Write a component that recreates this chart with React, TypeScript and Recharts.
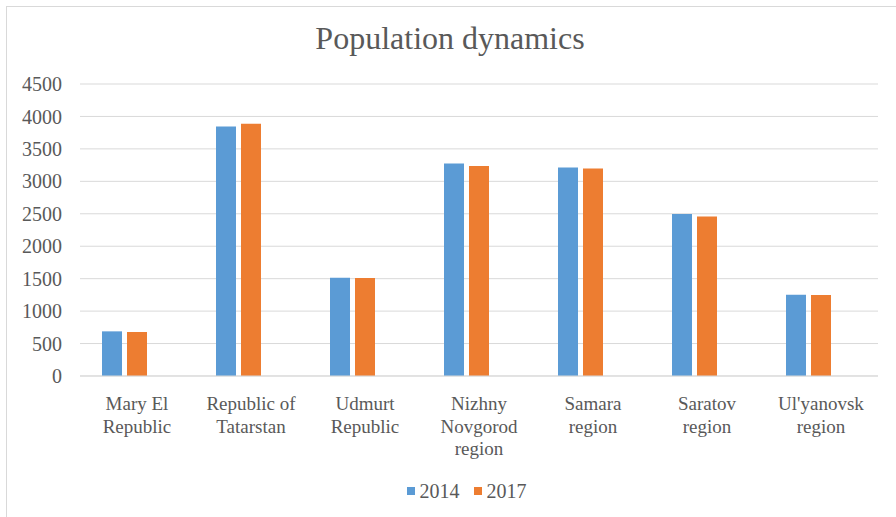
import React from 'react';
import {
  BarChart,
  Bar,
  XAxis,
  YAxis,
  CartesianGrid,
  Legend,
} from 'recharts';

const categories = [
  'Mary El\nRepublic',
  'Republic of\nTatarstan',
  'Udmurt\nRepublic',
  'Nizhny\nNovgorod\nregion',
  'Samara\nregion',
  'Saratov\nregion',
  "Ul'yanovsk\nregion",
];
const values2014 = [688, 3846, 1514, 3274, 3214, 2495, 1252];
const values2017 = [678, 3886, 1512, 3235, 3198, 2458, 1250];
const yTicks = [0, 500, 1000, 1500, 2000, 2500, 3000, 3500, 4000, 4500];

const data = categories.map((name, i) => ({
  name,
  y2014: values2014[i],
  y2017: values2017[i],
}));

const FONT = '"Liberation Serif", serif';
const TEXT = '#595959';
const GRID = '#d9d9d9';

function CategoryTick({ x, y, payload }: any) {
  const lines = String(payload.value).split('\n');
  return (
    <text
      x={x}
      y={y}
      textAnchor="middle"
      fill={TEXT}
      fontFamily={FONT}
      fontSize={19}
    >
      {lines.map((line, i) => (
        <tspan key={i} x={x} dy={i === 0 ? 28 : 22.5}>
          {line}
        </tspan>
      ))}
    </text>
  );
}

function LegendContent({ payload }: any) {
  return (
    <div
      style={{
        height: 24,
        display: 'flex',
        justifyContent: 'center',
        alignItems: 'center',
        gap: 14,
        fontFamily: FONT,
        fontSize: 20,
        color: TEXT,
      }}
    >
      {(payload || []).map((item: any) => (
        <span key={item.value} style={{ display: 'flex', alignItems: 'center' }}>
          <span
            style={{
              display: 'inline-block',
              width: 8,
              height: 8,
              background: item.color,
              marginRight: 5,
            }}
          />
          {item.value}
        </span>
      ))}
    </div>
  );
}

export default function App() {
  return (
    <div
      style={{
        position: 'absolute',
        left: 0,
        top: 0,
        width: 896,
        height: 517,
        background: '#fff',
      }}
    >
      <div
        style={{
          position: 'absolute',
          left: 6,
          top: 6,
          width: 900,
          height: 520,
          borderTop: `1px solid ${GRID}`,
          borderLeft: `1px solid ${GRID}`,
        }}
      />
      <div
        style={{
          position: 'absolute',
          left: 0,
          top: 22,
          width: 900,
          textAlign: 'center',
          fontFamily: FONT,
          fontSize: 32,
          lineHeight: 1,
          color: TEXT,
        }}
      >
        Population dynamics
      </div>
      <BarChart
        width={896}
        height={517}
        data={data}
        margin={{ top: 84, right: 18, bottom: 14, left: 0 }}
        barSize={20}
        barGap={5}
      >
        <CartesianGrid vertical={false} stroke={GRID} strokeWidth={1} />
        <XAxis
          dataKey="name"
          height={103}
          axisLine={{ stroke: GRID }}
          tickLine={false}
          tickMargin={0}
          interval={0}
          tick={<CategoryTick />}
        />
        <YAxis
          width={80}
          domain={[0, 4500]}
          ticks={yTicks}
          axisLine={false}
          tickLine={false}
          tickMargin={12}
          tick={{ fill: TEXT, fontFamily: FONT, fontSize: 20 }}
        />
        <Legend
          verticalAlign="bottom"
          content={<LegendContent />}
          wrapperStyle={{ left: 14, width: 878 }}
        />
        <Bar dataKey="y2014" name="2014" fill="#5B9BD5" isAnimationActive={false} />
        <Bar dataKey="y2017" name="2017" fill="#ED7D31" isAnimationActive={false} />
        <Bar dataKey="empty" name="" legendType="none" fill="none" isAnimationActive={false} />
      </BarChart>
    </div>
  );
}
